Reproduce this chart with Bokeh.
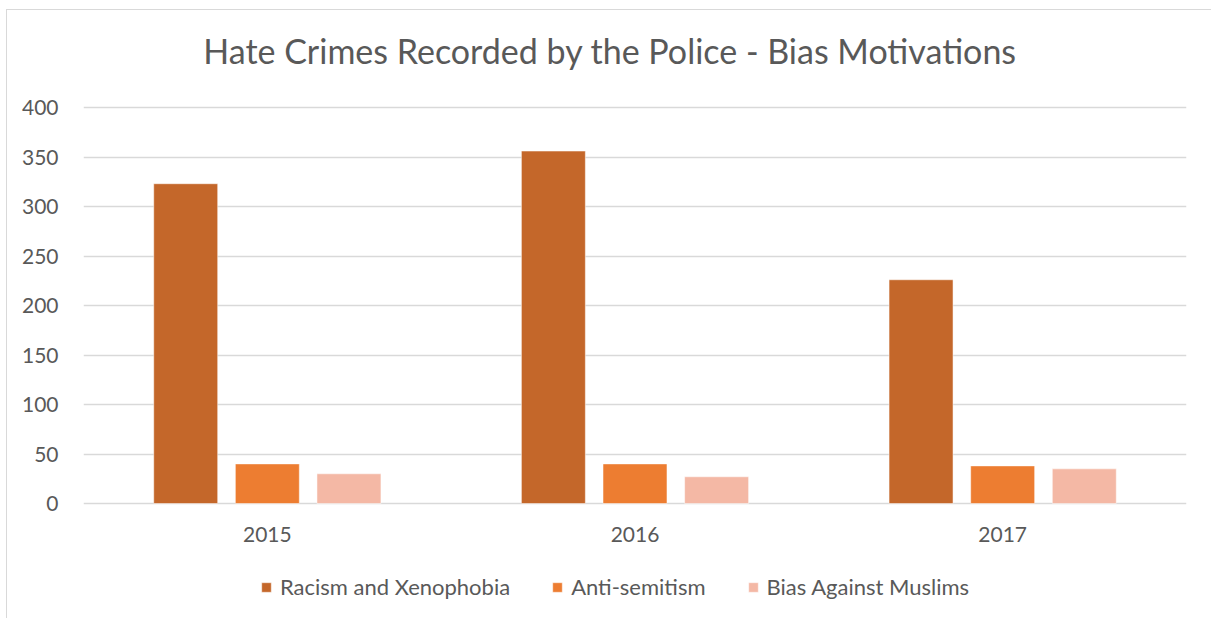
from bokeh.plotting import figure
from bokeh.models import (ColumnDataSource, FactorRange, Range1d, Legend, LegendItem,
                          FixedTicker, Label)
from bokeh.core.properties import value
from bokeh.transform import dodge
from bokeh.embed import file_html
from bokeh.resources import INLINE

# Hate crimes recorded by the police, by bias motivation
years = ["2015", "2016", "2017"]
racism_xenophobia = [323, 356, 226]
anti_semitism = [40, 40, 38]
bias_against_muslims = [30, 27, 35]

series_names = ["Racism and Xenophobia", "Anti-semitism", "Bias Against Muslims"]
series_colors = ["#C4672A", "#ED7D31", "#F4B8A5"]
y_ticks = [0, 50, 100, 150, 200, 250, 300, 350, 400]
chart_title = "Hate Crimes Recorded by the Police - Bias Motivations"

FONT = "Lato"
TEXT = "#595959"
GRID = "#D9D9D9"

source = ColumnDataSource(dict(
    year=years,
    racism=racism_xenophobia,
    anti=anti_semitism,
    muslims=bias_against_muslims,
))

# the frame fills the whole height so the title, the category labels and
# the legend can all be placed around the 0-400 value band
p = figure(
    width=1205, height=609,
    x_range=FactorRange(*years, range_padding=0),
    y_range=Range1d(-117.17, 497.98),
    x_axis_location=None,
    output_backend="svg", toolbar_location=None,
    min_border_left=76, min_border_right=26,
    min_border_top=0, min_border_bottom=0,
)
# light frame around the chart area
p.styles = {
    "margin-left": "6px", "margin-top": "9px",
    "border-left": "1px solid #D9D9D9", "border-top": "1px solid #D9D9D9",
}

p.add_layout(Label(x=0.326, y=457.3, text=chart_title,
                   text_align="left", text_baseline="alphabetic",
                   text_font=FONT, text_font_size="34px", text_color=TEXT))

bar_w = 0.174
offsets = [-0.222, 0.0, 0.222]
fields = ["racism", "anti", "muslims"]
renderers = []
for field, off, color in zip(fields, offsets, series_colors):
    r = p.vbar(x=dodge("year", off, range=p.x_range), top=field, bottom=0, width=bar_w,
               source=source, fill_color=color, line_color="white", line_alpha=0.5,
               line_width=1)
    renderers.append(r)

# category labels under the zero line
p.text(x="year", y=-31.6, text="year", source=source,
       text_align="center", text_baseline="middle",
       text_font=value(FONT), text_font_size="21px", text_color=TEXT)

# value axis
p.yaxis.ticker = FixedTicker(ticks=y_ticks)
p.yaxis.axis_line_color = None
p.yaxis.major_tick_line_color = None
p.yaxis.minor_tick_line_color = None
p.yaxis.major_label_standoff = 19
p.yaxis.major_label_text_font = FONT
p.yaxis.major_label_text_font_size = "21px"
p.yaxis.major_label_text_color = TEXT

p.xgrid.grid_line_color = None
p.ygrid.grid_line_color = GRID
p.ygrid.grid_line_width = 1.5
p.outline_line_color = None

legend = Legend(
    items=[LegendItem(label=n, renderers=[r]) for n, r in zip(series_names, renderers)],
    orientation="horizontal",
    location=(177, 19),
    padding=0, margin=0,
    glyph_width=12, glyph_height=12,
    label_standoff=8, spacing=41,
    label_text_font=FONT, label_text_font_size="22px",
    label_text_color=TEXT, label_height=22,
    border_line_color=None, background_fill_alpha=0,
)
p.add_layout(legend, "center")

open("out.html", "w").write(file_html(p, INLINE))
